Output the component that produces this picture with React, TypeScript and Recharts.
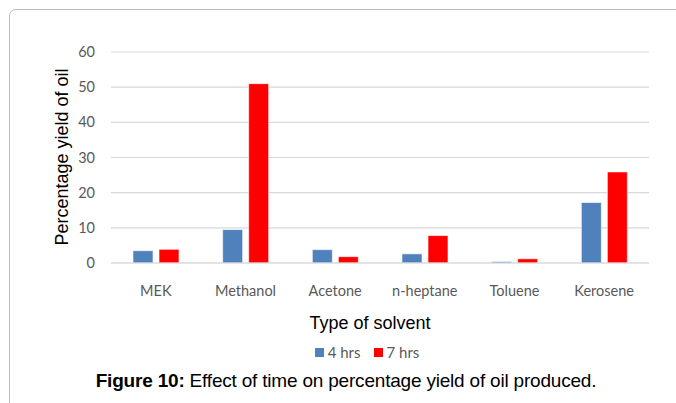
import React from 'react';
import { BarChart, Bar, XAxis, YAxis, CartesianGrid, Legend } from 'recharts';

const solvents = ['MEK', 'Methanol', 'Acetone', 'n-heptane', 'Toluene', 'Kerosene'];
const fourHrs = [3.5, 9.5, 3.8, 2.6, 0.4, 17.2];
const sevenHrs = [3.9, 51.0, 1.8, 7.8, 1.2, 25.9];
const yTicks = [0, 10, 20, 30, 40, 50, 60];

const data = solvents.map((name, i) => ({ name, h4: fourHrs[i], h7: sevenHrs[i] }));

const tickFont = { fontFamily: 'Lato, "Open Sans", sans-serif', fontSize: 14.5, fill: '#595959' };

function LegendContent({ payload }: any) {
  return (
    <div style={{ display: 'flex', justifyContent: 'center', fontFamily: 'Lato, sans-serif', fontSize: 15, color: '#595959' }}>
      {(payload || []).map((p: any, i: number) => (
        <span key={i} style={{ display: 'flex', alignItems: 'center', marginLeft: i ? 13 : 0 }}>
          <span style={{ width: 9, height: 9, background: p.color, marginRight: 4, display: 'inline-block' }} />
          {p.value}
        </span>
      ))}
    </div>
  );
}

export default function App() {
  return (
    <div style={{ position: 'fixed', left: 0, top: 0, width: 676, height: 403, background: '#fff', overflow: 'hidden' }}>
      <div style={{ position: 'absolute', left: 9, top: 9, width: 720, height: 440, border: '1px solid #bdbdbd', borderTopLeftRadius: 7 }} />
      <BarChart width={676} height={403} data={data} margin={{ top: 52, right: 27, left: 0, bottom: 100 }}
        barSize={20} barGap={6}>
        <CartesianGrid vertical={false} stroke="#d9d9d9" strokeWidth={1.2} />
        <XAxis dataKey="name" axisLine={{ stroke: '#d9d9d9', strokeWidth: 1.2 }} tickLine={false} tickSize={0} tickMargin={23}
          height={40} tick={tickFont} interval={0}
          label={() => (
            <text x={370} y={329} textAnchor="middle" fontFamily='"Liberation Sans", Arial, sans-serif' fontSize={18} fill="#000">Type of solvent</text>
          )} />
        <YAxis domain={[0, 60]} ticks={yTicks} width={111} axisLine={false} tickLine={false} tickSize={0} tickMargin={16}
          tick={tickFont}
          label={() => (
            <text x={68} y={157} transform="rotate(-90 68 157)" textAnchor="middle" fontFamily='"Liberation Sans", Arial, sans-serif' fontSize={18} fill="#000">Percentage yield of oil</text>
          )} />
        <Legend layout="horizontal" verticalAlign="middle" align="center" content={<LegendContent />}
          wrapperStyle={{ top: 343, left: 0, width: 734, height: 20 }} />
        <Bar dataKey="h4" name="4 hrs" fill="#4f81bd" stroke="#ffffff" strokeWidth={0.6} isAnimationActive={false} />
        <Bar dataKey="h7" name="7 hrs" fill="#ff0000" stroke="#ffffff" strokeWidth={0.6} isAnimationActive={false} />
      </BarChart>
      <div style={{ position: 'absolute', left: 0, top: 370, width: 692, textAlign: 'center', fontFamily: '"Liberation Sans", Arial, sans-serif', fontSize: 19, letterSpacing: -0.2, color: '#000', whiteSpace: 'nowrap' }}>
        <b>Figure 10:</b> Effect of time on percentage yield of oil produced.
      </div>
    </div>
  );
}
